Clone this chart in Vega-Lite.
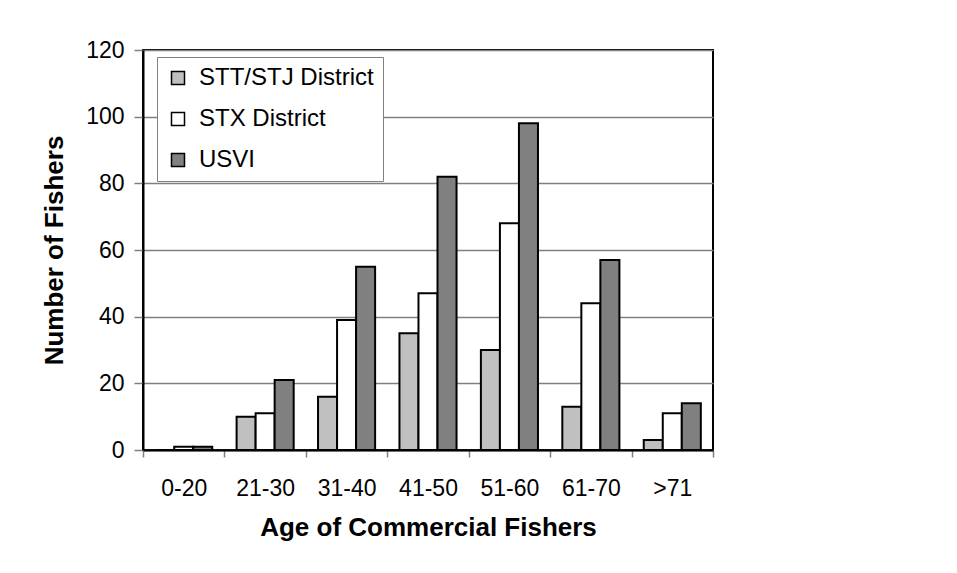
{
  "$schema": "https://vega.github.io/schema/vega-lite/v6.json",
  "width": 570,
  "height": 400,
  "autosize": {"type": "none"},
  "padding": {"left": 143, "top": 50, "right": 244, "bottom": 123},
  "background": "white",
  "config": {
    "font": "Liberation Sans",
    "view": {"stroke": "black", "strokeWidth": 2}
  },
  "data": {
    "values": [
      {"age": "0-20", "series": "STT/STJ District", "n": 0},
      {"age": "0-20", "series": "STX District", "n": 1},
      {"age": "0-20", "series": "USVI", "n": 1},
      {"age": "21-30", "series": "STT/STJ District", "n": 10},
      {"age": "21-30", "series": "STX District", "n": 11},
      {"age": "21-30", "series": "USVI", "n": 21},
      {"age": "31-40", "series": "STT/STJ District", "n": 16},
      {"age": "31-40", "series": "STX District", "n": 39},
      {"age": "31-40", "series": "USVI", "n": 55},
      {"age": "41-50", "series": "STT/STJ District", "n": 35},
      {"age": "41-50", "series": "STX District", "n": 47},
      {"age": "41-50", "series": "USVI", "n": 82},
      {"age": "51-60", "series": "STT/STJ District", "n": 30},
      {"age": "51-60", "series": "STX District", "n": 68},
      {"age": "51-60", "series": "USVI", "n": 98},
      {"age": "61-70", "series": "STT/STJ District", "n": 13},
      {"age": "61-70", "series": "STX District", "n": 44},
      {"age": "61-70", "series": "USVI", "n": 57},
      {"age": ">71", "series": "STT/STJ District", "n": 3},
      {"age": ">71", "series": "STX District", "n": 11},
      {"age": ">71", "series": "USVI", "n": 14}
    ]
  },
  "mark": {"type": "bar", "stroke": "black", "strokeWidth": 2},
  "encoding": {
    "x": {
      "field": "age",
      "type": "nominal",
      "sort": null,
      "scale": {"paddingInner": 0, "paddingOuter": 0},
      "axis": {
        "title": "Age of Commercial Fishers",
        "titleFontSize": 26,
        "titleFontWeight": "bold",
        "titleColor": "black",
        "titlePadding": 14,
        "labelAngle": 0,
        "labelFontSize": 23,
        "labelColor": "black",
        "labelPadding": 20,
        "tickBand": "extent",
        "tickSize": 7,
        "tickColor": "#808080",
        "tickWidth": 1.5,
        "domainColor": "black",
        "domainWidth": 2,
        "grid": false
      }
    },
    "xOffset": {"field": "series", "type": "nominal", "sort": ["STT/STJ District", "STX District", "USVI"], "scale": {"paddingInner": 0, "paddingOuter": 0.64}},
    "y": {
      "field": "n",
      "type": "quantitative",
      "scale": {"domain": [0, 120]},
      "axis": {
        "title": "Number of Fishers",
        "titleFontSize": 26,
        "titleFontWeight": "bold",
        "titleColor": "black",
        "titlePadding": 18,
        "values": [0, 20, 40, 60, 80, 100, 120],
        "labelFontSize": 23,
        "labelColor": "black",
        "labelPadding": 10,
        "tickSize": 9,
        "tickColor": "#808080",
        "tickWidth": 1.5,
        "domainColor": "black",
        "domainWidth": 2,
        "grid": true,
        "gridColor": "#808080",
        "gridWidth": 1.5
      }
    },
    "fill": {
      "field": "series",
      "type": "nominal",
      "sort": ["STT/STJ District", "STX District", "USVI"],
      "scale": {"domain": ["STT/STJ District", "STX District", "USVI"], "range": ["#C0C0C0", "#FFFFFF", "#808080"]},
      "legend": {
        "title": null,
        "orient": "none",
        "legendX": 14,
        "legendY": 7,
        "fillColor": "white",
        "strokeColor": "#808080",
        "padding": 9,
        "rowPadding": 17,
        "symbolType": "square",
        "symbolSize": 169,
        "symbolStrokeColor": "black",
        "symbolStrokeWidth": 1.5,
        "labelFontSize": 24,
        "labelColor": "black",
        "labelOffset": 9,
        "labelLimit": 400
      }
    }
  }
}
